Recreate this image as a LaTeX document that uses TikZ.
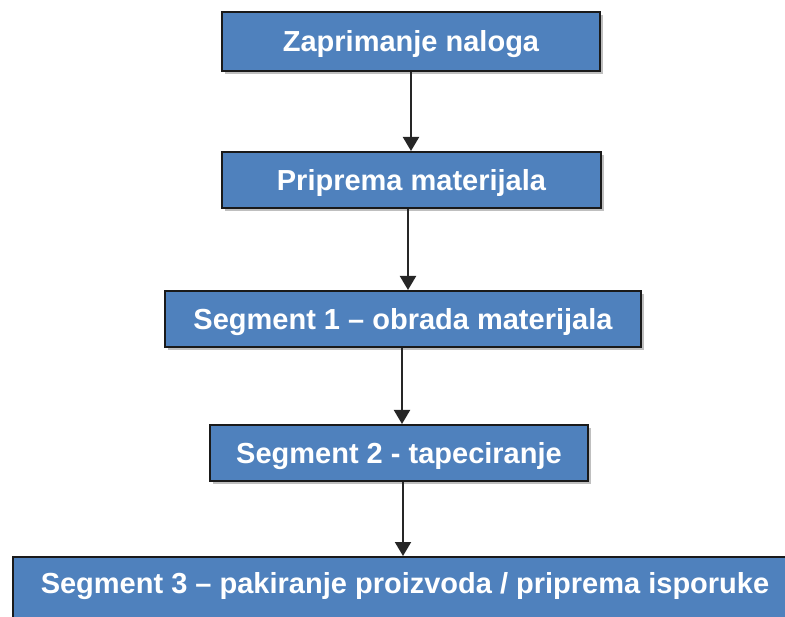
\documentclass[tikz,border=0pt]{standalone}
\usepackage{fontspec}
\setmainfont{Liberation Sans}
\usetikzlibrary{arrows.meta,shadows}
\definecolor{boxblue}{HTML}{4F81BD}
\definecolor{boxedge}{HTML}{1A1A1A}
\tikzset{
  stepbox/.style={draw=boxedge, line width=2pt, fill=boxblue, rectangle,
    minimum height=56pt, inner sep=0pt,
    drop shadow={shadow xshift=3pt, shadow yshift=-3pt, fill=gray, opacity=0.5}},
  boxtext/.style={text=white, font=\fontsize{29}{29}\selectfont\bfseries,
    text height=21pt, text depth=0pt, inner sep=0pt},
  flow/.style={draw=black!85, line width=2pt, -{Triangle[length=14pt,width=16pt]}}
}
\begin{document}
\begin{tikzpicture}[x=1pt,y=-1pt]
\useasboundingbox (0,0) rectangle (785,617);
\clip (0,0) rectangle (785,617);
\node[stepbox, boxtext, minimum width=378pt, minimum height=59pt] (b1) at (411,41.5) {Zaprimanje naloga};
\node[stepbox, boxtext, minimum width=379pt] (b2) at (411.5,180) {Priprema materijala};
\node[stepbox, boxtext, minimum width=476pt] (b3) at (403,319) {Segment 1 – obrada materijala};
\node[stepbox, boxtext, minimum width=378pt] (b4) at (399,453) {Segment 2 - tapeciranje};
\node[stepbox, anchor=north west, minimum width=800pt, minimum height=80pt] (b5) at (12,556) {};
\node[boxtext] (t5) at (405,583) {Segment 3 – pakiranje proizvoda / priprema isporuke};
\coordinate (a1) at (411,0);
\coordinate (a2) at (408,0);
\coordinate (a3) at (402,0);
\coordinate (a4) at (403,0);
\draw[flow] (b1.south -| a1) -- (b2.north -| a1);
\draw[flow] (b2.south -| a2) -- (b3.north -| a2);
\draw[flow] (b3.south -| a3) -- (b4.north -| a3);
\draw[flow] (b4.south -| a4) -- (b5.north -| a4);
\end{tikzpicture}
\end{document}
